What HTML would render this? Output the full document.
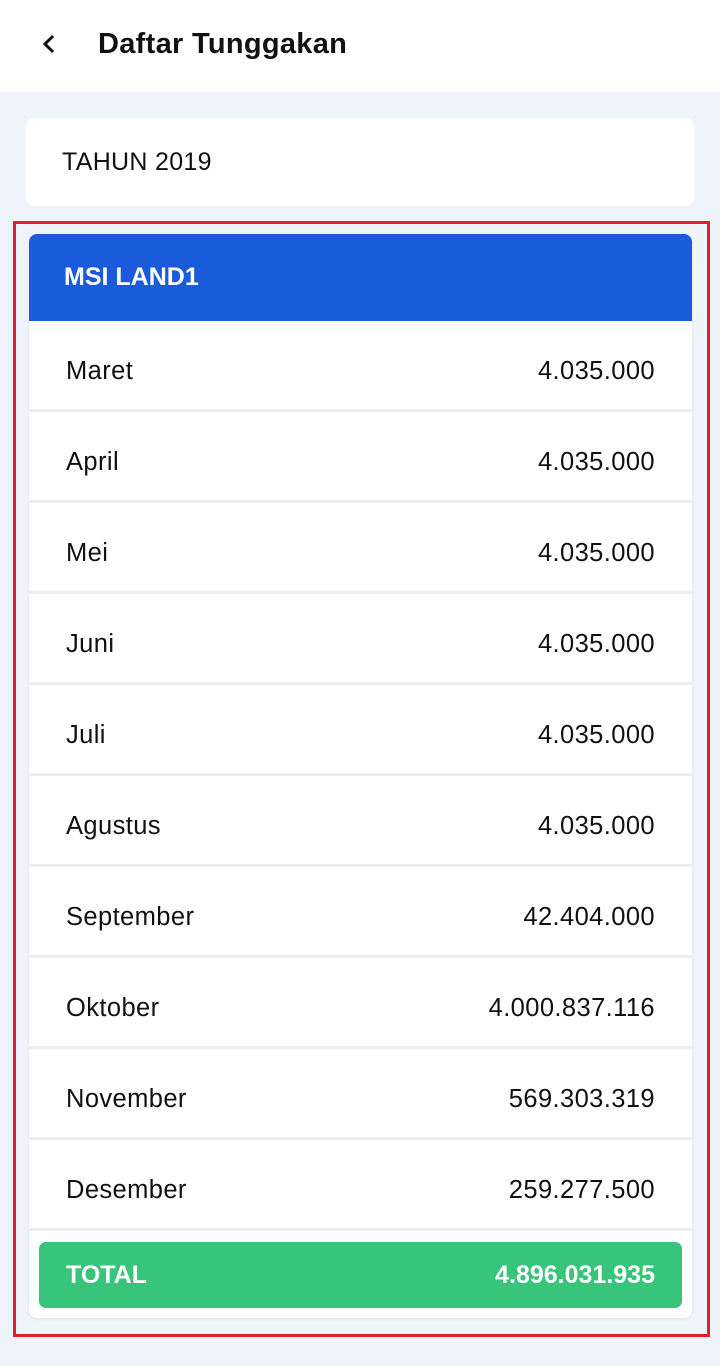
<!DOCTYPE html>
<html><head><meta charset="utf-8"><style>
*{margin:0;padding:0;box-sizing:border-box}
body{width:720px;height:1366px;background:#eff4fb;font-family:"Liberation Sans",Roboto,sans-serif;position:relative;overflow:hidden;color:#111}
.hdr{position:absolute;left:0;top:0;width:720px;height:92px;background:#fff}
.title{position:absolute;left:98px;top:28px;font-size:29px;font-weight:bold;color:#111;letter-spacing:0.3px}
.back{position:absolute;left:36px;top:30px;width:28px;height:28px}
.yr{position:absolute;left:26px;top:118px;width:668px;height:88px;background:#fff;border-radius:8px;font-size:25px;padding-left:36px;line-height:88px;letter-spacing:0.3px}
.red{position:absolute;left:13px;top:221px;width:697px;height:1116px;border:3px solid #e3202a}
.card{position:absolute;left:29px;top:234px;width:663px;height:1084px;background:#fff;border-radius:8px;overflow:hidden;box-shadow:0 1px 3px rgba(0,0,0,.08)}
.ch{height:87px;background:#1a5bdb;color:#fff;font-weight:bold;font-size:25px;line-height:87px;padding-left:35px}
.row{height:91px;border-bottom:3px solid #eceef1;display:flex;justify-content:space-between;align-items:center;padding:13px 37px 0 37px;font-size:25.5px;letter-spacing:0.4px}
.tot{position:absolute;left:10px;top:1008px;width:643px;height:66px;background:#38c47a;border-radius:7px;color:#fff;font-weight:bold;font-size:25px;display:flex;justify-content:space-between;align-items:center;padding:0 27px}
</style></head><body>
<div class="hdr">
<svg class="back" viewBox="0 0 28 28"><path d="M17 6 L9 14 L17 22" fill="none" stroke="#111" stroke-width="3"/></svg>
<div class="title">Daftar Tunggakan</div>
</div>
<div class="yr">TAHUN 2019</div>
<div class="red"></div>
<div class="card">
<div class="ch">MSI LAND1</div>
<div id="rows"></div>
<div class="tot"><span>TOTAL</span><span id="totv">4.896.031.935</span></div>
</div>
<script>
const months=["Maret","April","Mei","Juni","Juli","Agustus","September","Oktober","November","Desember"];
const amounts=["4.035.000","4.035.000","4.035.000","4.035.000","4.035.000","4.035.000","42.404.000","4.000.837.116","569.303.319","259.277.500"];
const wrap=document.getElementById('rows');
months.forEach((m,i)=>{
 const r=document.createElement('div');r.className='row';
 
 
 const a=document.createElement('span');a.textContent=m;
 
 
 const b=document.createElement('span');b.textContent=amounts[i];
 
 
 r.appendChild(a);r.appendChild(b);wrap.appendChild(r);
});
</script>
</body></html>
